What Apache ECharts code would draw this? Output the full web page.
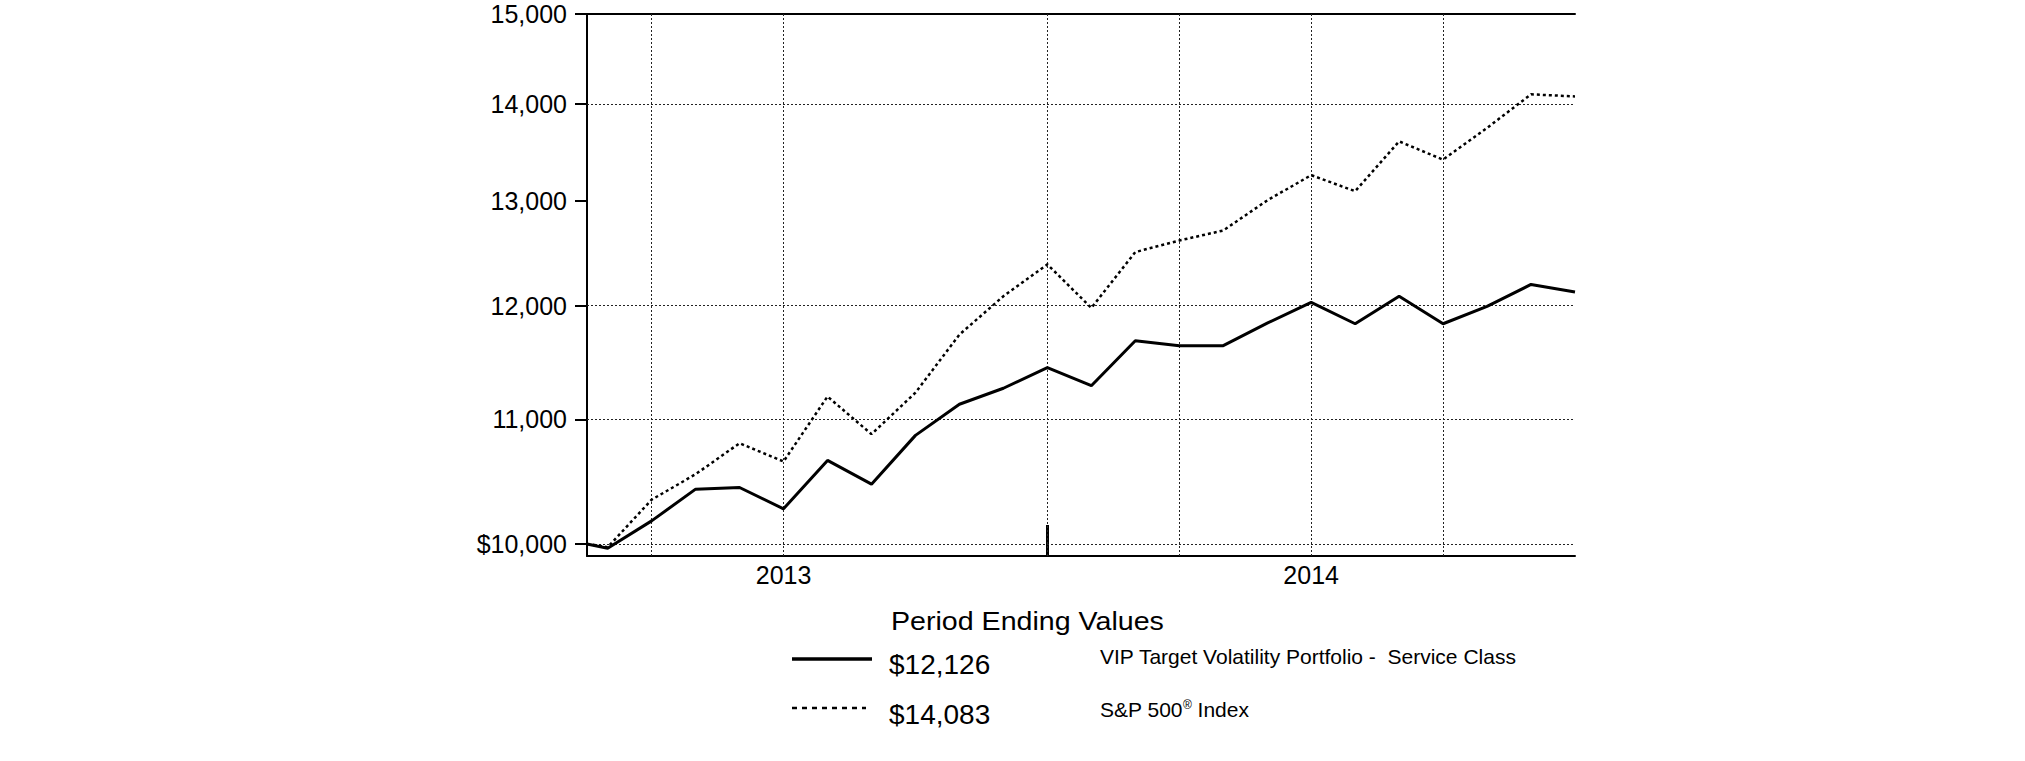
<!DOCTYPE html>
<html>
<head>
<meta charset="utf-8">
<script src="https://cdn.jsdelivr.net/npm/echarts@6/dist/echarts.min.js"></script>
<style>
html,body{margin:0;padding:0;background:#fff;}
#chart{width:2025px;height:761px;}
</style>
</head>
<body>
<div id="chart"></div>
<script>
// ---- data (month index; -0.47 = inception, 0..22 = month ends) ----
const monthIndex = [-0.47, 0, 1, 2, 3, 4, 5, 6, 7, 8, 9, 10, 11, 12, 13, 14, 15, 16, 17, 18, 19, 20, 21, 22];
const fundValues = [10000, 9967, 10178, 10428, 10441, 10272, 10660, 10468, 10866, 11128, 11265, 11445,
                    11287, 11682, 11638, 11638, 11840, 12030, 11835, 12087, 11835, 11994, 12196, 12126];
const indexValues = [10000, 9975, 10344, 10548, 10801, 10651, 11194, 10876, 11227, 11737, 12087, 12385,
                     11979, 12502, 12613, 12710, 13006, 13260, 13098, 13607, 13418, 13748, 14106, 14083];
const seriesNames = ['VIP Target Volatility Portfolio -  Service Class', 'S&P 500\u00AE Index'];
const yTickValues = [10000, 11000, 12000, 13000, 14000, 15000];
const yGridValues = [10000, 11000, 12000, 14000];
const xGridValues = [1, 4, 10, 13, 16, 19];
const yearLabels = ['2013', '2014'];
const yearPositions = [4, 16];
const markerTick = [10];
const legendTitle = 'Period Ending Values';

function fmt(v) {
  const s = String(Math.round(v));
  return s.replace(/\B(?=(\d{3})+(?!\d))/g, ',');
}

const FONT = "'Liberation Sans', Arial, sans-serif";
const chart = echarts.init(document.getElementById('chart'), null, {renderer: 'svg'});

const yMin = 9908, yMax = 15000, xMin = -0.47, xMax = 22;
const gridStyle = {color: '#222', width: 1, type: [2, 2]};

const option = {
  animation: false,
  backgroundColor: '#fff',
  grid: {left: 587, right: 450, top: 14, bottom: 205},
  xAxis: [
    {
      type: 'value', position: 'bottom', min: xMin, max: xMax,
      axisLine: {show: true, onZero: false, lineStyle: {color: '#000', width: 2}},
      axisTick: {show: true, inside: true, length: 31, customValues: markerTick,
                 lineStyle: {color: '#000', width: 3}},
      axisLabel: {show: true, customValues: yearPositions, margin: 6,
                  fontFamily: FONT, fontSize: 25, color: '#000',
                  formatter: v => { const i = yearPositions.indexOf(Math.round(v)); return i >= 0 ? yearLabels[i] : ''; }},
      splitLine: {show: false}
    },
    {
      type: 'value', position: 'top', min: xMin, max: xMax,
      axisLine: {show: true, onZero: false, lineStyle: {color: '#000', width: 2}},
      axisTick: {show: false},
      axisLabel: {show: false},
      splitLine: {show: false}
    }
  ],
  yAxis: [
    {
      type: 'log', position: 'left', min: yMin, max: yMax,
      axisLine: {show: true, onZero: false, lineStyle: {color: '#000', width: 2}},
      axisTick: {show: true, length: 12, customValues: yTickValues, lineStyle: {color: '#000', width: 2}},
      axisLabel: {show: true, customValues: yTickValues, margin: 20,
                  fontFamily: FONT, fontSize: 25, color: '#000',
                  formatter: v => (Math.round(v) === yTickValues[0] ? '$' : '') + fmt(v)},
      splitLine: {show: false}
    }
  ],
  series: [
    {
      name: seriesNames[1], type: 'line', xAxisIndex: 0, yAxisIndex: 0,
      data: monthIndex.map((m, i) => [m, indexValues[i]]),
      symbol: 'none', silent: true, z: 3,
      lineStyle: {color: '#000', width: 2.5, type: [3, 3]},
      markLine: {
        silent: true, symbol: 'none', animation: false, z: 1,
        label: {show: false},
        lineStyle: gridStyle,
        data: xGridValues.map(v => ({xAxis: v})).concat(yGridValues.map(v => ({yAxis: v})))
      }
    },
    {
      name: seriesNames[0], type: 'line', xAxisIndex: 0, yAxisIndex: 0,
      data: monthIndex.map((m, i) => [m, fundValues[i]]),
      symbol: 'none', silent: true, z: 4,
      lineStyle: {color: '#000', width: 3}
    }
  ],
  graphic: [
    {type: 'text', x: 891, y: 621, scaleX: 1.1,
     style: {text: legendTitle, font: "26px " + FONT, fill: '#000', verticalAlign: 'middle', align: 'left'}},
    {type: 'line', shape: {x1: 792, y1: 659, x2: 872, y2: 659}, style: {stroke: '#000', lineWidth: 3.5}},
    {type: 'text', x: 889, y: 664,
     style: {text: '$' + fmt(fundValues[fundValues.length - 1]), font: "28px " + FONT, fill: '#000', verticalAlign: 'middle', align: 'left'}},
    {type: 'text', x: 1100, y: 656,
     style: {text: seriesNames[0], font: "21px " + FONT, fill: '#000', verticalAlign: 'middle', align: 'left'}},
    {type: 'line', shape: {x1: 792, y1: 708, x2: 866, y2: 708}, style: {stroke: '#000', lineWidth: 2.5, lineDash: [5, 5]}},
    {type: 'text', x: 889, y: 714,
     style: {text: '$' + fmt(indexValues[indexValues.length - 1]), font: "28px " + FONT, fill: '#000', verticalAlign: 'middle', align: 'left'}},
    {type: 'text', x: 1100, y: 709,
     style: {text: 'S&P 500{sup|\u00AE} Index', font: "21px " + FONT, fill: '#000', verticalAlign: 'middle', align: 'left',
             rich: {sup: {font: "12px " + FONT, fill: '#000', verticalAlign: 'top', padding: [0, 0, 8, 0]}}}}
  ]
};
chart.setOption(option);
</script>
</body>
</html>
